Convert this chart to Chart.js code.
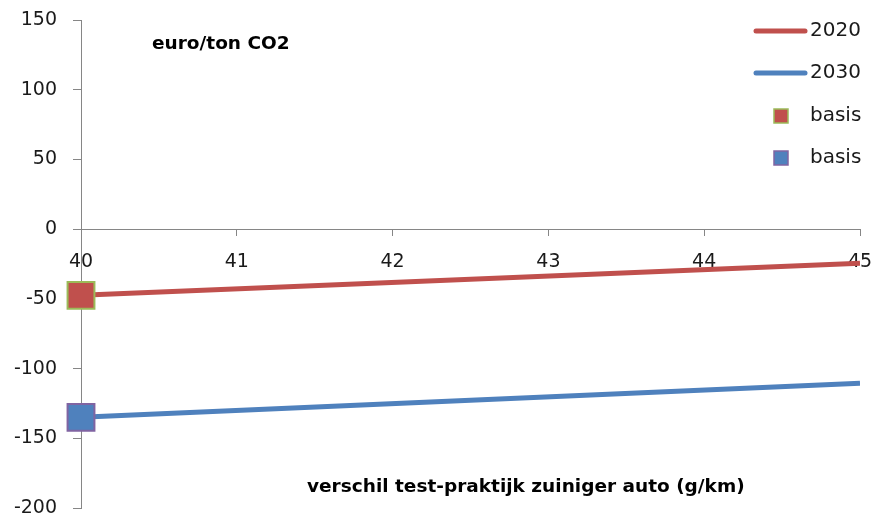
<!DOCTYPE html>
<html>
<head>
<meta charset="utf-8">
<script src="https://cdn.jsdelivr.net/npm/chart.js@4"></script>
<style>
html,body{margin:0;padding:0;background:#fff;}
#wrap{width:876px;height:518px;position:relative;}
</style>
</head>
<body>
<div id="wrap"><canvas id="c" width="876" height="518"></canvas></div>
<script>
const xValues = [40, 45];
const series2020 = [-47.5, -24.5];
const series2030 = [-135, -110.5];
const basisX = [40];
const basis2020 = [-47.5];
const basis2030 = [-135];
const yTitle = 'euro/ton CO2';
const xTitle = 'verschil test-praktijk zuiniger auto (g/km)';
const seriesNames = ['2020', '2030', 'basis', 'basis'];

const RED = '#C0504D', BLUE = '#4F81BD', GREEN = '#9BBB59', PURPLE = '#8064A2';
const FONT = '"DejaVu Sans", sans-serif';
const TXT = '#1a1a1a';

const toPts = (xs, ys) => xs.map((x, i) => ({x: x, y: ys[i]}));

const annot = {
  id: 'annot',
  afterDraw(chart) {
    const ctx = chart.ctx;
    ctx.save();
    ctx.fillStyle = '#000';
    ctx.font = 'bold 18.5px ' + FONT;
    ctx.textBaseline = 'middle';
    ctx.textAlign = 'left';
    ctx.fillText(yTitle, 152, 44);
    ctx.fillText(xTitle, 307, 487);
    // legend
    ctx.font = '20px ' + FONT;
    const lx1 = 756, lx2 = 805, tx = 810;
    const rows = [31, 73, 116, 158];
    ctx.lineCap = 'round';
    ctx.lineWidth = 5;
    ctx.strokeStyle = RED;
    ctx.beginPath(); ctx.moveTo(lx1, rows[0]); ctx.lineTo(lx2, rows[0]); ctx.stroke();
    ctx.strokeStyle = BLUE;
    ctx.beginPath(); ctx.moveTo(lx1, rows[1]); ctx.lineTo(lx2, rows[1]); ctx.stroke();
    ctx.lineWidth = 1.5;
    ctx.fillStyle = RED; ctx.strokeStyle = GREEN;
    ctx.fillRect(774, rows[2] - 7, 14, 14); ctx.strokeRect(774, rows[2] - 7, 14, 14);
    ctx.fillStyle = BLUE; ctx.strokeStyle = PURPLE;
    ctx.fillRect(774, rows[3] - 7, 14, 14); ctx.strokeRect(774, rows[3] - 7, 14, 14);
    ctx.fillStyle = TXT;
    ctx.fillText(seriesNames[0], tx, rows[0]);
    ctx.fillText(seriesNames[1], tx, rows[1]);
    ctx.fillText(seriesNames[2], tx, rows[2]);
    ctx.fillText(seriesNames[3], tx, rows[3]);
    ctx.restore();
  }
};

function zeroPad(s) { s.paddingLeft = 0; s.paddingRight = 0; s.paddingTop = 0; s.paddingBottom = 0; }

new Chart(document.getElementById('c'), {
  type: 'scatter',
  data: {
    datasets: [
      {label: seriesNames[2], data: toPts(basisX, basis2020), pointStyle: 'rect', pointRadius: 19, pointHoverRadius: 19,
        backgroundColor: RED, borderColor: GREEN, borderWidth: 2, order: 0, showLine: false, clip: false},
      {label: seriesNames[3], data: toPts(basisX, basis2030), pointStyle: 'rect', pointRadius: 19, pointHoverRadius: 19,
        backgroundColor: BLUE, borderColor: PURPLE, borderWidth: 2, order: 0, showLine: false, clip: false},
      {label: seriesNames[0], data: toPts(xValues, series2020), showLine: true, borderColor: RED, borderWidth: 5,
        pointRadius: 0, order: 1, borderCapStyle: 'butt'},
      {label: seriesNames[1], data: toPts(xValues, series2030), showLine: true, borderColor: BLUE, borderWidth: 5,
        pointRadius: 0, order: 1, borderCapStyle: 'butt'}
    ]
  },
  options: {
    responsive: false,
    animation: false,
    layout: {autoPadding: false, padding: {left: 0, right: 16, top: 20, bottom: 10}},
    plugins: {legend: {display: false}, tooltip: {enabled: false}},
    scales: {
      x: {
        type: 'linear', min: 40, max: 45, position: {y: 0},
        ticks: {stepSize: 1, color: TXT, font: {family: FONT, size: 19}, padding: 16, maxRotation: 0},
        grid: {drawOnChartArea: false, drawTicks: true, tickLength: 6, color: '#868686'},
        border: {color: '#868686', width: 1},
        afterFit: zeroPad
      },
      y: {
        type: 'linear', min: -200, max: 150,
        ticks: {stepSize: 50, color: TXT, font: {family: FONT, size: 19}, padding: 16},
        grid: {drawOnChartArea: false, drawTicks: true, tickLength: 8, color: '#868686'},
        border: {color: '#868686', width: 1},
        afterFit(s) { s.width = 81; zeroPad(s); }
      }
    }
  },
  plugins: [annot]
});
</script>
</body>
</html>
